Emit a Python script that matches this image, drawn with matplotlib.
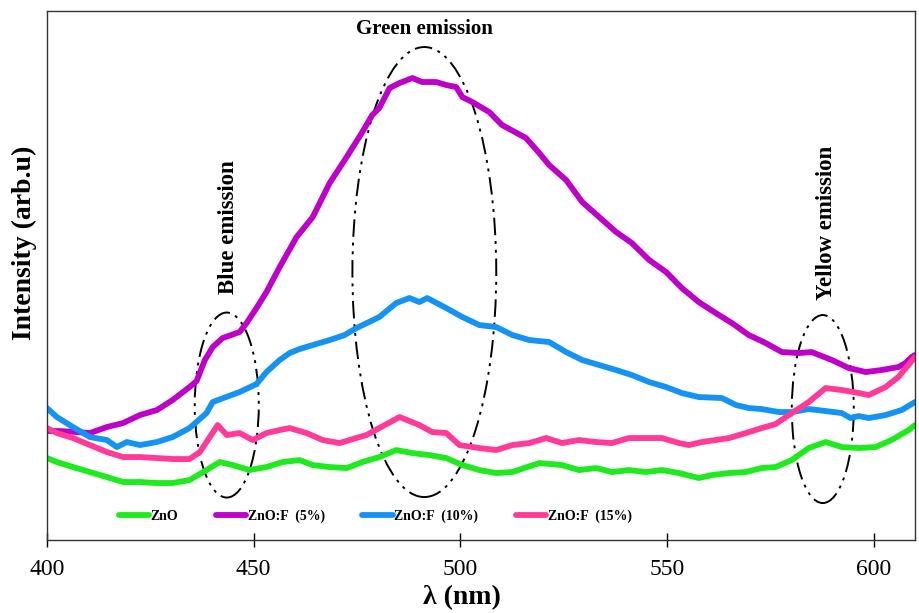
import matplotlib.pyplot as plt
from matplotlib.patches import Ellipse

plt.rcParams['font.family'] = ['Liberation Serif', 'DejaVu Serif']

# ZnO
wl_zno = [400, 402.4, 406.3, 410.4, 414.5, 418.4, 422.5, 426.6, 430.4, 434.5, 438.6, 441.8, 444.9, 449.0,
          453.1, 457.0, 461.1, 464.3, 468.4, 472.5, 476.3, 480.4, 484.5, 488.4, 492.5, 496.6, 500.5, 504.6,
          508.7, 512.6, 519.1, 524.6, 528.7, 532.9, 536.7, 540.8, 544.9, 548.8, 552.9, 557.7, 560.9, 565.0,
          569.1, 572.9, 576.3, 580.2, 584.3, 588.4, 592.3, 596.4, 600.5, 604.3, 608.5, 610]
i_zno = [82, 78, 73, 68, 63, 58, 58, 57, 57, 60, 70, 78, 75, 70,
         73, 78, 80, 75, 73, 72, 78, 83, 90, 87, 85, 82, 75, 70,
         67, 68, 77, 75, 70, 72, 68, 70, 68, 70, 67, 62, 65, 67,
         68, 72, 73, 80, 92, 98, 93, 92, 93, 100, 110, 115]

# ZnO:F (5%)
wl_f5 = [400, 403.1, 407.2, 410.4, 414.5, 418.4, 422.5, 426.6, 430.4, 434.5, 436.2, 438.2, 440.1, 442.5,
         446.6, 448.3, 450.7, 453.1, 456.3, 460.4, 464.3, 468.4, 472.5, 476.3, 478.7, 480.4, 482.9, 485.3,
         488.4, 490.8, 494.2, 496.6, 499.0, 500.5, 502.9, 507.0, 510.1, 515.9, 519.1, 521.5, 525.6, 529.5,
         533.6, 537.7, 541.5, 545.7, 549.8, 553.6, 557.7, 561.8, 565.7, 569.8, 573.9, 577.8, 581.9, 585.0,
         589.9, 594.0, 598.1, 601.9, 606.0, 607.7, 609.2, 610]
i_f5 = [109, 109, 108, 107, 113, 117, 125, 130, 140, 153, 159, 180, 193, 202,
        208, 217, 232, 248, 273, 303, 323, 357, 383, 408, 425, 432, 452, 457,
        462, 458, 458, 455, 453, 443, 438, 428, 415, 402, 387, 375, 360, 338,
        323, 308, 297, 280, 268, 252, 238, 227, 217, 205, 197, 188, 187, 188,
        180, 172, 168, 170, 173, 177, 183, 185]

# ZnO:F (10%)
wl_f10 = [400, 402.4, 406.3, 410.4, 414.5, 416.9, 419.3, 422.5, 426.6, 430.4, 434.5, 438.6, 440.1, 446.6,
          450.7, 453.1, 456.3, 458.7, 461.1, 464.3, 468.4, 472.0, 474.9, 480.4, 484.5, 487.7, 490.1, 492.0,
          496.6, 500.5, 504.6, 508.7, 512.6, 516.7, 521.5, 525.6, 529.5, 533.6, 537.7, 541.5, 545.7, 549.8,
          553.6, 557.7, 563.3, 566.7, 569.8, 572.9, 577.1, 580.2, 584.3, 588.4, 592.3, 594.4, 596.4, 598.8,
          602.9, 606.8, 610]
i_f10 = [132, 123, 113, 103, 100, 93, 98, 95, 98, 103, 112, 127, 138, 148,
         156, 168, 180, 187, 191, 195, 200, 205, 212, 223, 237, 242, 238, 242,
         232, 223, 215, 213, 205, 200, 198, 188, 180, 175, 170, 165, 158, 153,
         147, 143, 142, 135, 132, 131, 128, 128, 131, 129, 127, 122, 124, 122,
         125, 130, 138]

# ZnO:F (15%)
wl_f15 = [400, 402.4, 406.3, 410.4, 414.5, 418.4, 422.5, 426.6, 430.4, 434.5, 437.0, 439.4, 441.3, 443.5,
          446.6, 449.8, 453.1, 456.3, 458.7, 462.8, 466.7, 470.8, 473.2, 477.3, 480.4, 485.3, 490.1, 493.2,
          496.6, 499.8, 504.6, 508.7, 512.6, 516.7, 520.8, 524.6, 528.7, 532.9, 536.7, 540.8, 544.9, 548.8,
          552.9, 555.3, 558.5, 565.0, 569.1, 572.9, 576.3, 580.2, 584.3, 588.4, 592.3, 596.4, 598.8, 602.9,
          606.0, 610]
i_f15 = [112, 107, 102, 95, 88, 83, 83, 82, 81, 81, 88, 103, 115, 105,
         107, 100, 107, 110, 112, 107, 100, 97, 100, 105, 112, 123, 115, 108,
         107, 95, 92, 90, 95, 97, 102, 97, 100, 98, 97, 102, 102, 102,
         97, 95, 98, 102, 107, 112, 116, 127, 138, 152, 150, 147, 145, 153,
         163, 183]

labels = ['ZnO', 'ZnO:F  (5%)', 'ZnO:F  (10%)', 'ZnO:F  (15%)']
colors = ['#1EEB1E', '#BE00C8', '#1493F5', '#FF3A98']

# emission regions: (centre wl, centre intensity, width nm, height)
regions = [(443.5, 135, 15.5, 185), (491.3, 268, 34.8, 450), (587.7, 131, 15.0, 188)]
region_names = ['Blue emission', 'Green emission', 'Yellow emission']

fig = plt.figure(figsize=(9.19, 6.13), dpi=100)
ax = fig.add_axes([0.0511, 0.119, 0.9445, 0.863])

series = [(wl_zno, i_zno), (wl_f5, i_f5), (wl_f10, i_f10), (wl_f15, i_f15)]
for (x, y), lab, c in zip(series, labels, colors):
    ax.plot(x, y, color=c, lw=4.2, label=lab, solid_capstyle='round')

for (cx, cy, w, h) in regions:
    ax.add_patch(Ellipse((cx, cy), w, h, fill=False, ec='black', lw=1.4,
                         ls=(0, (9, 3, 1.5, 3, 1.5, 3))))

ax.text(444.0, 313, region_names[0], rotation=90, ha='center', va='center',
        fontsize=16.5, fontweight='bold')
ax.text(491.3, 511, region_names[1], ha='center', va='center',
        fontsize=15, fontweight='bold')
ax.text(588.5, 317, region_names[2], rotation=90, ha='center', va='center',
        fontsize=16.5, fontweight='bold')

ax.set_xlim(400, 610)
ax.set_ylim(0, 529)
ax.set_xticks([400, 450, 500, 550, 600])
ax.set_yticks([])
ax.tick_params(axis='x', direction='inout', length=10, width=1, labelsize=17, pad=9)
for s in ax.spines.values():
    s.set_color('#333333')
    s.set_linewidth(1)

ax.set_xlabel('λ (nm)', fontsize=20, fontweight='bold')
ax.xaxis.set_label_coords(0.478, -0.085)
ax.set_ylabel('Intensity (arb.u)', fontsize=20, fontweight='bold')
ax.yaxis.set_label_coords(-0.011, 0.561)

ax.legend(loc='center', bbox_to_anchor=(0.378, 0.045), ncol=4, frameon=False,
          prop={'weight': 'bold', 'size': 10}, handlelength=2.2, columnspacing=2.7,
          handletextpad=0.1)

fig.savefig('out.png', dpi=100)
